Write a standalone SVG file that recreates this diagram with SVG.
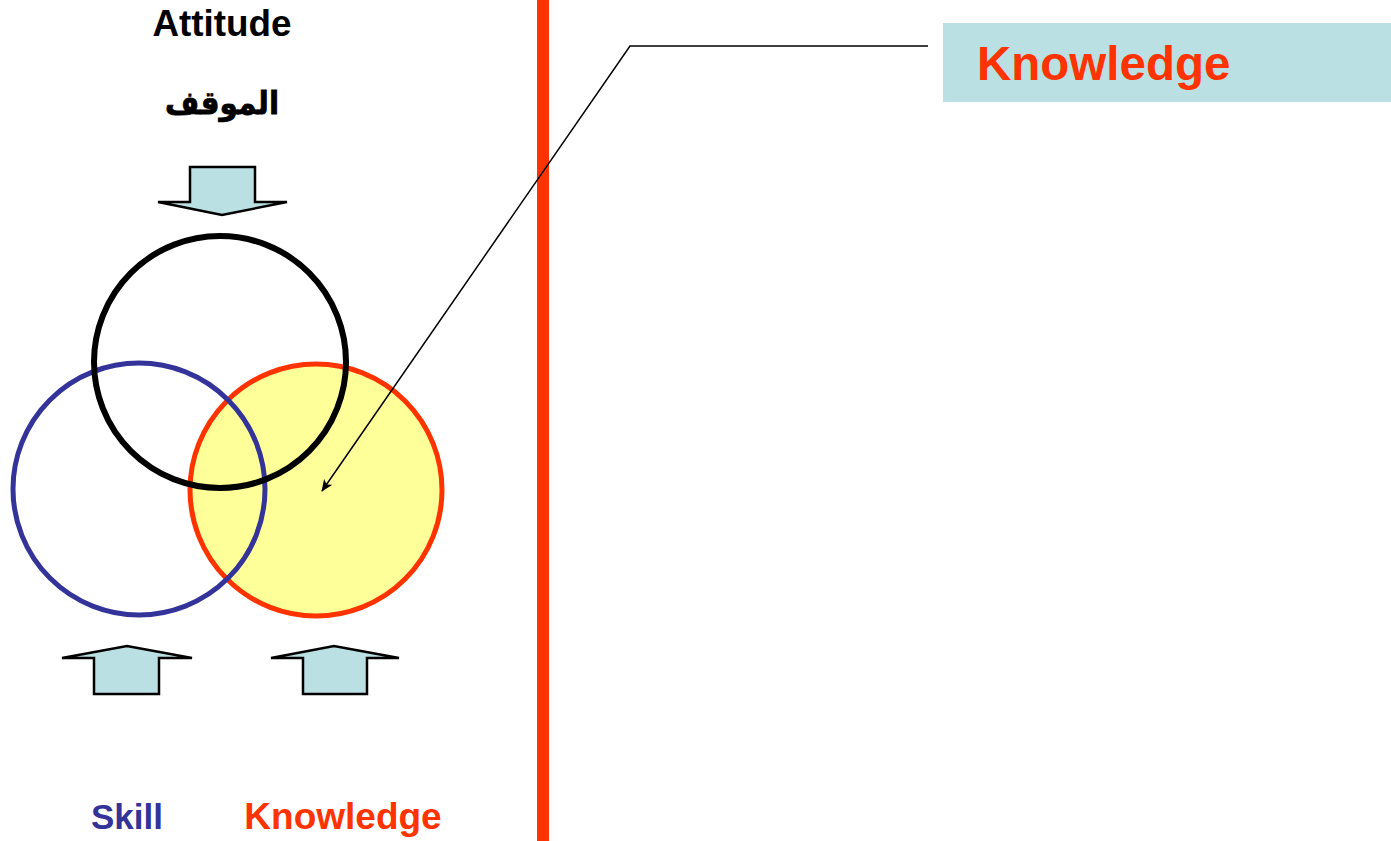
<svg xmlns="http://www.w3.org/2000/svg" width="1391" height="841" viewBox="0 0 1391 841">
<defs>
<style>
.t{font-family:"Liberation Sans",Arial,"Noto Sans",sans-serif;font-weight:bold}
.arr{fill:#BBE0E3;stroke:#000;stroke-width:2.5;stroke-linejoin:miter}
.c{stroke-width:5}
</style>
<marker id="ah" markerWidth="12" markerHeight="10" refX="11" refY="5" orient="auto" markerUnits="userSpaceOnUse">
<path d="M0,0 L12,5 L0,10 L3,5 Z" fill="#000"/>
</marker>
</defs>
<rect width="1391" height="841" fill="#fff"/>
<g id="divider"><rect x="537" y="0" width="12" height="841" fill="#FF3300"/></g>
<g id="knowledge-circle"><circle class="c" cx="316" cy="490" r="126" fill="#FFFF99" stroke="#FF3300"/></g>
<g id="skill-circle"><circle class="c" cx="139" cy="489" r="126" fill="none" stroke="#333399"/></g>
<g id="attitude-circle"><circle cx="220" cy="362" r="126" fill="none" stroke="#000" stroke-width="6"/></g>
<g id="attitude-label">
<text class="t" x="222" y="36" font-size="36" text-anchor="middle" textLength="139" lengthAdjust="spacingAndGlyphs">Attitude</text>
<text class="t" x="222" y="114" font-size="32" text-anchor="middle" style="font-family:'DejaVu Sans','Noto Sans',sans-serif" stroke="#000" stroke-width="0.8" textLength="114" lengthAdjust="spacingAndGlyphs">الموقف</text>
</g>
<g id="arrow-down"><polygon class="arr" points="190,167 255,167 255,202 287,202 222,215 158,202 190,202"/></g>
<g id="arrow-up-skill"><polygon class="arr" points="94,694 159,694 159,658 192,658 127,646 62,658 94,658"/></g>
<g id="arrow-up-knowledge"><polygon class="arr" points="303,694 367,694 367,658 399,658 334,646 271,658 303,658"/></g>
<g id="skill-label"><text class="t" x="127" y="829" font-size="35" fill="#333399" text-anchor="middle">Skill</text></g>
<g id="knowledge-label"><text class="t" x="343" y="829" font-size="37" fill="#FF3300" text-anchor="middle">Knowledge</text></g>
<g id="knowledge-box">
<rect x="943" y="23" width="448" height="79" fill="#BBE0E3"/>
<text class="t" x="977" y="80" font-size="47.5" fill="#FF3300">Knowledge</text>
</g>
<g id="connectors">
<polyline points="928,46 630,46 322,491" fill="none" stroke="#000" stroke-width="1.5" marker-end="url(#ah)"/>
</g>
</svg>
